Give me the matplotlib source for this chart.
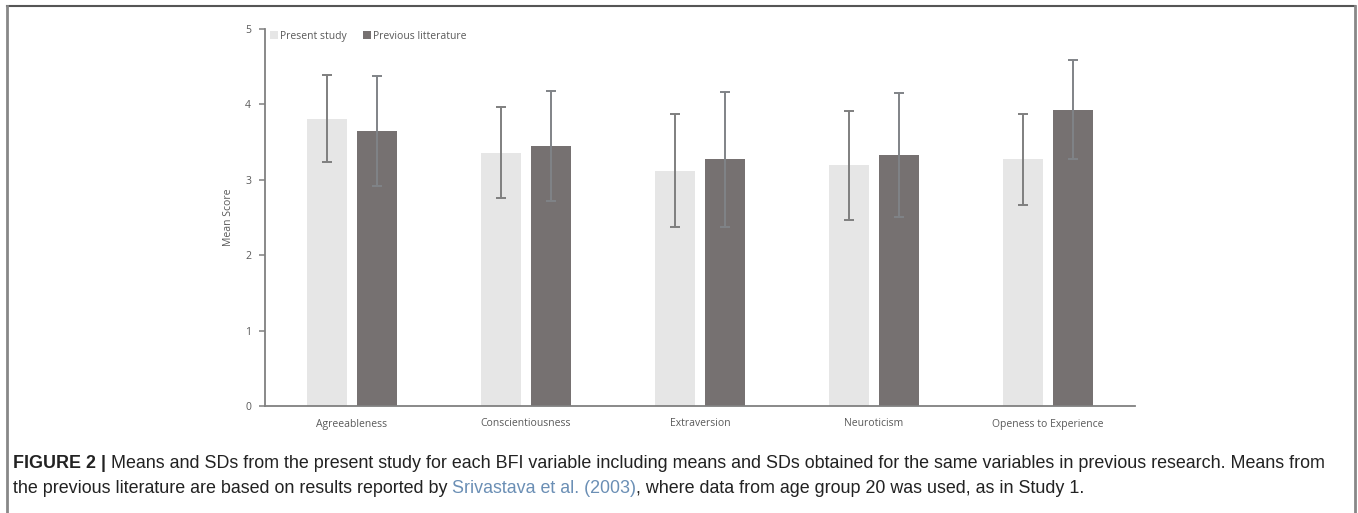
import matplotlib
matplotlib.use('Agg')
import numpy as np
import matplotlib.pyplot as plt
from matplotlib.lines import Line2D

# data
traits = ['Agreeableness', 'Conscientiousness', 'Extraversion', 'Neuroticism', 'Openess to Experience']
present_mean = [3.81, 3.36, 3.12, 3.19, 3.27]
present_sd = [0.58, 0.60, 0.75, 0.72, 0.60]
previous_mean = [3.65, 3.45, 3.27, 3.33, 3.93]
previous_sd = [0.73, 0.73, 0.90, 0.82, 0.66]

light = '#e6e6e6'
dark = '#767171'
errc = '#7f7f7f'
txtc = '#595959'

fig = plt.figure(figsize=(13.58, 5.13), dpi=100)
ax = fig.add_axes([265/1358, 1-406/513, 870/1358, 377/513])

x = np.arange(len(traits))
w = 40/174
off = 25/174
ax.bar(x - off, present_mean, w, color=light, label='Present study', zorder=1)
ax.bar(x + off, previous_mean, w, color=dark, label='Previous litterature', zorder=1)
ax.errorbar(x - off, present_mean, yerr=present_sd, fmt='none', ecolor=errc,
            elinewidth=1.4, capsize=3.3, capthick=1.4, zorder=3)
ax.errorbar(x + off, previous_mean, yerr=previous_sd, fmt='none', ecolor='#808387',
            elinewidth=1.4, capsize=3.3, capthick=1.4, zorder=3)

ax.set_xlim(-0.5, 4.5)
ax.set_ylim(0, 5)
ax.set_yticks(range(6))
ax.set_xticks(x)
ax.set_xticklabels(traits)
for s in ['top', 'right']:
    ax.spines[s].set_visible(False)
for s in ['left', 'bottom']:
    ax.spines[s].set_color('#808080')
    ax.spines[s].set_linewidth(1.3)
ax.tick_params(axis='x', length=0, pad=9, labelsize=7.5, labelcolor=txtc)
ax.tick_params(axis='y', length=4, width=1.1, color='#808080', pad=6,
               labelsize=7.5, labelcolor=txtc)
for t in ax.get_xticklabels() + ax.get_yticklabels():
    t.set_family('Open Sans')
ax.set_ylabel('Mean Score', fontsize=7.5, color=txtc, family='Open Sans', labelpad=0)
ax.yaxis.set_label_coords(-0.036, 0.5)

leg = ax.legend(loc='upper left', bbox_to_anchor=(-0.005, 1.02), ncol=2, frameon=False,
                handlelength=0.75, handleheight=0.75, handletextpad=0.2,
                columnspacing=1.6, prop={'family': 'Open Sans', 'size': 7.5})
for t in leg.get_texts():
    t.set_color(txtc)

# frame around the figure panel
fig.add_artist(Line2D([7/1358, 1355/1358], [1-6/513, 1-6/513], transform=fig.transFigure,
                      color='#555555', lw=1.5))
fig.add_artist(Line2D([7/1358, 7/1358], [0, 1-6/513], transform=fig.transFigure,
                      color='#888888', lw=2))
fig.add_artist(Line2D([1355/1358, 1355/1358], [0, 1-6/513], transform=fig.transFigure,
                      color='#888888', lw=2))

# caption with mixed styles
cap_size = 12.9


def put_parts(parts, xpx, ypx):
    fig.canvas.draw()
    rend = fig.canvas.get_renderer()
    xx = xpx
    for txt, weight, color in parts:
        t = fig.text(xx/1358, 1-ypx/513, txt, fontsize=cap_size, family='Liberation Sans',
                     fontweight=weight, color=color, va='baseline', ha='left')
        bb = t.get_window_extent(renderer=rend)
        xx += bb.width


put_parts([('FIGURE 2 |', 'bold', '#222222'),
           (' Means and SDs from the present study for each BFI variable including means and SDs obtained for the same variables in previous research. Means from', 'normal', '#222222')],
          13, 468)
put_parts([('the previous literature are based on results reported by ', 'normal', '#222222'),
           ('Srivastava et al. (2003)', 'normal', '#6b8fb5'),
           (', where data from age group 20 was used, as in Study 1.', 'normal', '#222222')],
          13, 493)

fig.savefig('out.png', dpi=100)
